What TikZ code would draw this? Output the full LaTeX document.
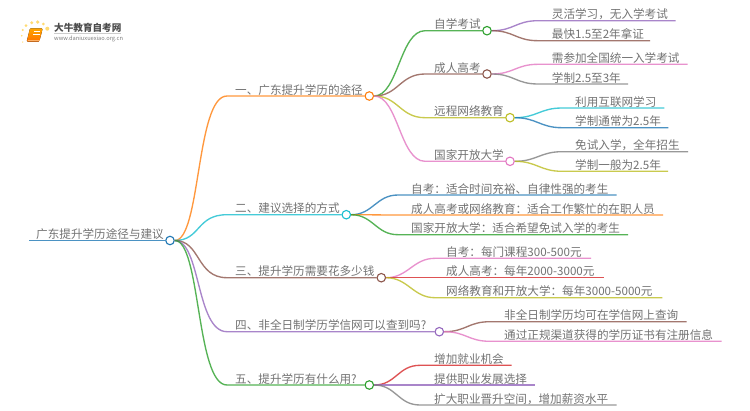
\documentclass[tikz,border=0pt]{standalone}
\usepackage{fontspec}
\setmainfont{Noto Sans CJK SC}
\definecolor{mblue}{HTML}{1F77B4}
\definecolor{morange}{HTML}{FF7F0E}
\definecolor{mgreen}{HTML}{2CA02C}
\definecolor{mred}{HTML}{D62728}
\definecolor{mpurple}{HTML}{9467BD}
\definecolor{mbrown}{HTML}{8C564B}
\definecolor{mpink}{HTML}{E377C2}
\definecolor{mgray}{HTML}{7F7F7F}
\definecolor{molive}{HTML}{BCBD22}
\definecolor{mcyan}{HTML}{17BECF}
\definecolor{mtext}{HTML}{737373}
\tikzset{
  dot/.style={circle, draw, fill=white, line width=1.1pt, minimum size=8.5pt, inner sep=0pt},
  lnk/.style={line width=1.35pt, opacity=0.8},
  txt/.style={anchor=base west, inner sep=0pt, text=mtext, font=\fontsize{11.6}{12}\selectfont},
}
\begin{document}
\begin{tikzpicture}[x=1pt, y=-1pt]
\useasboundingbox (0,0) rectangle (750,410);
\fill[white] (0,0) rectangle (750,410);

% Draw the logo
\foreach \px/\py/\pr in {37.7/22/1.8, 31.7/22.7/1.6, 26/25.7/1.5, 22.7/30/1.1, 43.3/24/1.5, 47.3/28.7/2, 21.7/35.7/0.9, 22.7/42/0.7}
  \fill[orange!50!yellow, opacity=0.55] (\px,\py) circle (\pr);
\fill[top color=orange!70!yellow, bottom color=orange!90!red, rounded corners=1pt] (30,28.3) -- (42.7,28.3) -- (39.3,41.7) -- (26.7,41.7) -- cycle;
\draw[orange!60!white, line width=0.7pt] (27.5,40.3) -- (39.5,40.3);
\draw[white, line width=0.6pt] (33.5,31.5) -- (40,31.5) (33,34) -- (39.5,34);
\node[anchor=base west, inner sep=0pt, text=black!70, font=\fontsize{9.6}{10}\selectfont\bfseries] (logo) at (54,31) {大牛教育自考网};
\node[anchor=base west, inner sep=0pt, text=mgray, font=\fontsize{5.7}{6}\selectfont] (url) at (54,40.5) {www.daniuxuexiao.org.cn};
\draw[black!20, line width=0.4pt] (54,33.3) -- (121,33.3);

% Draw the root
\node[dot, draw=mblue] (root) at (170,240.5) {};
\coordinate (rootstart) at (29,240.5);
\node[txt] (roottxt) at (36,238.5) {广东提升学历途径与建议};
\draw[lnk, color=mblue, line width=1.6pt] (rootstart) -- (root);

% Draw the main branches
\foreach \nm/\clr/\yy/\xc/\txt in {
  one/morange/96/369.3/一、广东提升学历的途径,
  two/mcyan/214.7/346.3/二、建议选择的方式,
  three/mbrown/277.7/381.3/三、提升学历需要花多少钱,
  four/mpurple/331.7/439.3/四、非全日制学历学信网可以查到吗?,
  five/mgreen/385/369.3/五、提升学历有什么用?}
{
  \node[dot, draw=\clr] (\nm) at (\xc,\yy) {};
  \coordinate (\nm bend) at (227,\yy);
  \node[txt] (\nm txt) at (235,\yy-2) {\txt};
  \draw[lnk, color=\clr] (root.east) .. controls +(26,0) and +(-31,0) .. (\nm bend) -- (\nm);
}

% Draw the ways under the first branch
\foreach \nm/\clr/\yy/\xc/\txt in {
  zikao/mgreen/30.7/487/自学考试,
  chengkao/mbrown/74/487/成人高考,
  yuancheng/molive/117.7/510/远程网络教育,
  guokai/mpink/161.3/510/国家开放大学}
{
  \node[dot, draw=\clr] (\nm) at (\xc,\yy) {};
  \coordinate (\nm bend) at (425,\yy);
  \node[txt] (\nm txt) at (434,\yy-2) {\txt};
  \draw[lnk, color=\clr] (one.east) .. controls +(24,0) and +(-25,0) .. (\nm bend) -- (\nm);
}

% Draw the leaves
\foreach \nm/\src/\clr/\xb/\xt/\yy/\xe/\txt in {
  a/zikao/mpurple/538/551.7/20.7/675.7/灵活学习，无入学考试,
  b/zikao/mbrown/538/551.7/40.7/650/最快1.5至2年拿证,
  c/chengkao/mpink/538/551.7/64.3/687.7/需参加全国统一入学考试,
  d/chengkao/mgray/538/551.7/84/628/学制2.5至3年,
  e/yuancheng/mcyan/562/575/108/664.3/利用互联网学习,
  f/yuancheng/mblue/562/575/127.7/668.3/学制通常为2.5年,
  g/guokai/mgray/562/575/151.7/688/免试入学，全年招生,
  h/guokai/molive/562/575/171.3/668/学制一般为2.5年,
  i/two/mblue/398/411/195/616.7/自考：适合时间充裕、自律性强的考生,
  j/two/morange/398/411/215/663/成人高考或网络教育：适合工作繁忙的在职人员,
  k/two/mgreen/398/411/234.7/628/国家开放大学：适合希望免试入学的考生,
  l/three/mpink/435/446/258.3/591/自考：每门课程300-500元,
  m/three/mred/435/446/277.7/604.3/成人高考：每年2000-3000元,
  n/three/molive/435/446/297.7/662.3/网络教育和开放大学：每年3000-5000元,
  o/four/mbrown/490/504/321.7/686.7/非全日制学历均可在学信网上查询,
  p/four/mpink/490/504/341.3/721.7/通过正规渠道获得的学历证书有注册信息,
  q/five/mred/420/434/365.3/511.7/增加就业机会,
  r/five/mpurple/420/434/385/535/提供职业发展选择,
  s/five/mgray/420/434/405/616.7/扩大职业晋升空间，增加薪资水平}
{
  \coordinate (\nm bend) at (\xb,\yy);
  \coordinate (\nm end) at (\xe,\yy);
  \node[txt] (\nm txt) at (\xt,\yy-2) {\txt};
  \draw[lnk, color=\clr] (\src.east) .. controls +(22,0) and +(-22,0) .. (\nm bend) -- (\nm end);
}
\end{tikzpicture}
\end{document}
